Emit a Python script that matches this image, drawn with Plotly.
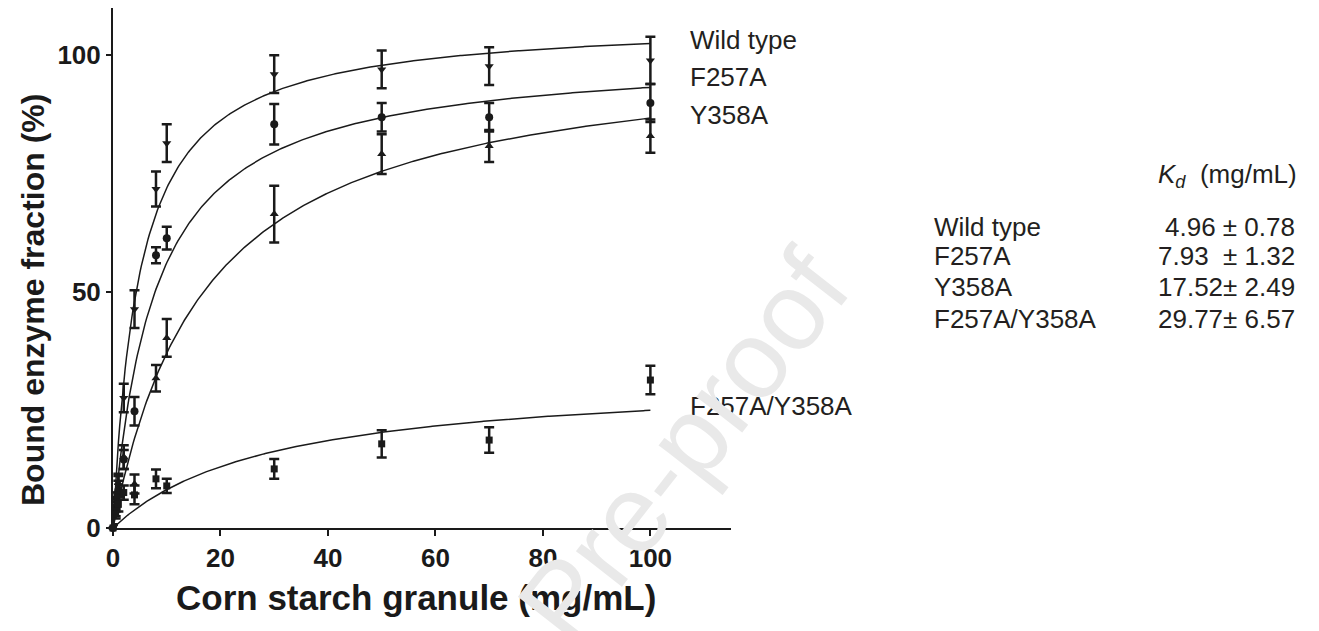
import numpy as np
import plotly.graph_objects as go

# ---------------- data ----------------
conc = [0, 0.5, 1, 2, 4, 8, 10, 30, 50, 70, 100]

wt_mean = [0, 6, 9, 27.5, 46.3, 71.7, 81.4, 96.0, 97.0, 97.7, 98.9]
wt_err = [0.8, 1.5, 2, 3, 4, 3.7, 4, 4, 4, 4, 5]

f257_mean = [0, 4, 8, 14.5, 24.7, 57.7, 61.3, 85.4, 86.9, 86.9, 89.9]
f257_err = [0.8, 1.5, 2, 2, 3, 1.7, 2.4, 4.3, 3, 3, 4]

y358_mean = [0, 5, 9.5, 15.0, 9.3, 31.7, 40.2, 66.4, 79.1, 80.8, 82.9]
y358_err = [0.8, 1.5, 2, 2.5, 2, 2.8, 4, 6, 4.2, 3.4, 3.5]

dbl_mean = [0, 3, 5, 7.5, 7.0, 10.4, 8.9, 12.5, 17.8, 18.6, 31.3]
dbl_err = [0.8, 1, 1.5, 1.5, 2, 2, 1.5, 2.1, 2.9, 2.7, 3]

series_names = ["Wild type", "F257A", "Y358A", "F257A/Y358A"]
kd_values = [4.96, 7.93, 17.52, 29.77]
kd_errors = ["4.96 ± 0.78", "7.93\u00a0\u00a0± 1.32", "17.52± 2.49", "29.77± 6.57"]
bmax_values = [107.6, 100.6, 101.9, 32.3]   # fitted plateau of each curve

x_ticks = [0, 20, 40, 60, 80, 100]
y_ticks = [0, 50, 100]

means = [wt_mean, f257_mean, y358_mean, dbl_mean]
errs = [wt_err, f257_err, y358_err, dbl_err]
symbols = ["triangle-down", "circle", "triangle-up", "square"]
msizes = [8, 8, 8, 7]

INK = "#1a1a1a"
TXT = "#231f20"
FONT = "Liberation Sans, Arial"

# page offset (browser body margin) and plot box in screen pixels
OFF = 8
L, R, T, B = 113, 731, 8, 528
W, H = 1319, 631


def px(x):
    return (x - L) / (R - L)


def py(y):
    return (B - y) / (B - T)


fig = go.Figure()

# fitted single-site binding curves  B = Bmax*x/(Kd+x)
xfit = np.linspace(0, 100, 400)
for kd, bmax in zip(kd_values, bmax_values):
    fig.add_trace(go.Scatter(x=xfit, y=bmax * xfit / (kd + xfit), mode="lines",
                             line=dict(color=INK, width=1.5), showlegend=False,
                             hoverinfo="skip", cliponaxis=False))

for name, m, e, sym, ms in zip(series_names, means, errs, symbols, msizes):
    fig.add_trace(go.Scatter(
        x=conc, y=m, mode="markers", name=name, showlegend=False,
        marker=dict(symbol=sym, size=ms, color=INK, line=dict(width=0)),
        error_y=dict(type="data", array=e, visible=True, color=INK,
                     thickness=2.5, width=5),
        cliponaxis=False))

fig.update_xaxes(range=[0, 115], tickvals=x_ticks,
                 ticktext=[f"<b>{v}</b>" for v in x_ticks],
                 showgrid=False, zeroline=False,
                 showline=True, linecolor=INK, linewidth=2, ticks="outside",
                 ticklen=6, tickwidth=2, tickcolor=INK,
                 tickfont=dict(family=FONT, size=26, color=INK))
fig.update_yaxes(range=[0, 110], tickvals=y_ticks,
                 ticktext=[f"<b>{v}</b>" for v in y_ticks],
                 showgrid=False, zeroline=False,
                 showline=True, linecolor=INK, linewidth=2, ticks="outside",
                 ticklen=5, tickwidth=2, tickcolor=INK,
                 tickfont=dict(family=FONT, size=26, color=INK))

fig.update_layout(width=W, height=H,
                  margin=dict(l=L - OFF, r=W - (R - OFF), t=T - OFF, b=H - (B - OFF)),
                  plot_bgcolor="white", paper_bgcolor="white",
                  font=dict(family=FONT, color=TXT))

fig.add_annotation(xref="paper", yref="paper", x=px(416), y=py(597),
                   text="<b>Corn starch granule (mg/mL)</b>", showarrow=False,
                   font=dict(family=FONT, size=35, color=INK),
                   xanchor="center", yanchor="middle")
fig.add_annotation(xref="paper", yref="paper", x=px(33), y=py(300),
                   text="<b>Bound enzyme fraction (%)</b>", showarrow=False,
                   font=dict(family=FONT, size=32, color=INK),
                   textangle=-90, xanchor="center", yanchor="middle")

lab = dict(family=FONT, size=26, color=TXT)
# curve labels
for name, yy in zip(series_names, [40, 77, 115, 406]):
    fig.add_annotation(xref="paper", yref="paper", x=px(688), y=py(yy),
                       text=name, showarrow=False, font=lab, xanchor="left", yanchor="middle")

# Kd table
fig.add_annotation(xref="paper", yref="paper", x=px(1299), y=py(176),
                   text="<i>K</i><sub><i>d</i></sub>\u00a0\u00a0(mg/mL)", showarrow=False,
                   font=lab, xanchor="right", yanchor="middle")
for name, kd_txt, yy in zip(series_names, kd_errors, [227, 256, 287, 319]):
    fig.add_annotation(xref="paper", yref="paper", x=px(932), y=py(yy),
                       text=name, showarrow=False, font=lab, xanchor="left", yanchor="middle")
    fig.add_annotation(xref="paper", yref="paper", x=px(1297), y=py(yy),
                       text=kd_txt, showarrow=False, font=lab, xanchor="right", yanchor="middle")

# watermark
fig.add_annotation(xref="paper", yref="paper", x=px(562), y=py(600),
                   text="Journal Pre-proof", showarrow=False, textangle=-52,
                   font=dict(family=FONT, size=110, color="#e9e9e9"),
                   xanchor="center", yanchor="middle")

fig.write_html("out.html")
